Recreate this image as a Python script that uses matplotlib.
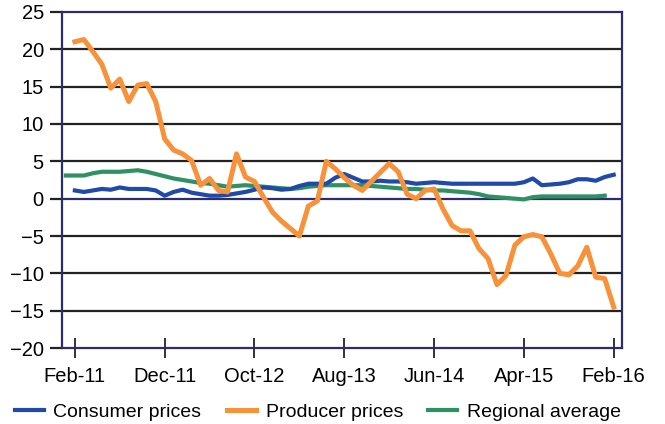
import numpy as np
import matplotlib
matplotlib.use("Agg")
import matplotlib.pyplot as plt

plt.rcParams['font.family'] = ['Liberation Sans', 'DejaVu Sans']

# monthly, Feb-11 .. Feb-16 (index 0..60)
tick_labels = ['Feb-11', 'Dec-11', 'Oct-12', 'Aug-13', 'Jun-14', 'Apr-15', 'Feb-16']

consumer = [1.1, 0.9, 1.1, 1.3, 1.2, 1.5, 1.3, 1.3, 1.3, 1.1,
            0.4, 0.9, 1.2, 0.8, 0.6, 0.4, 0.4, 0.5, 0.7, 0.9,
            1.2, 1.5, 1.4, 1.2, 1.3, 1.7, 2.0, 2.0, 2.0, 2.8,
            3.3, 2.8, 2.3, 2.3, 2.4, 2.3, 2.3, 2.2, 2.0, 2.1,
            2.2, 2.1, 2.0, 2.0, 2.0, 2.0, 2.0, 2.0, 2.0, 2.0,
            2.2, 2.7, 1.8, 1.9, 2.0, 2.2, 2.6, 2.6, 2.4, 2.9,
            3.2]

producer = [21.0, 21.3, 19.7, 18.0, 14.8, 16.0, 13.0, 15.2, 15.4, 13.0,
            8.0, 6.5, 6.0, 5.1, 1.8, 2.7, 1.1, 0.9, 6.0, 2.9,
            2.3, 0.2, -1.8, -3.0, -4.0, -5.0, -1.0, -0.3, 5.0, 4.0,
            2.8, 1.8, 1.1, 2.3, 3.5, 4.7, 3.6, 0.6, 0.0, 1.1,
            1.3, -1.4, -3.6, -4.3, -4.3, -6.7, -8.0, -11.5, -10.3, -6.2,
            -5.1, -4.8, -5.1, -7.4, -10.0, -10.2, -9.0, -6.5, -10.5, -10.7,
            -14.5]

# regional average runs Jan-11 .. Jan-16 (index -1..59)
regional = [3.1, 3.1, 3.1, 3.4, 3.6, 3.6, 3.6, 3.7, 3.8, 3.6,
            3.3, 3.0, 2.7, 2.5, 2.3, 2.1, 2.0, 1.8, 1.6, 1.7,
            1.8, 1.7, 1.6, 1.5, 1.4, 1.3, 1.4, 1.6, 1.7, 1.8,
            1.8, 1.8, 1.8, 1.8, 1.7, 1.6, 1.5, 1.4, 1.3, 1.3,
            1.2, 1.1, 1.1, 1.0, 0.9, 0.8, 0.6, 0.3, 0.2, 0.1,
            0.0, -0.1, 0.2, 0.3, 0.3, 0.3, 0.3, 0.3, 0.3, 0.3,
            0.4]

x = np.arange(len(consumer))
x_reg = np.arange(len(regional)) - 1

navy = '#2b2d6e'
blue = '#1f4aa8'
orange = '#f7923a'
green = '#2f9063'

fig = plt.figure(figsize=(6.65, 4.24), dpi=100)
ax = fig.add_axes([0.093, 0.179, 0.842, 0.793])

for v in [20, 15, 10, 5, -5, -10, -15]:
    ax.axhline(v, color='#222222', lw=1.6, zorder=1)
ax.axhline(0, color=navy, lw=1.6, zorder=1)

l1, = ax.plot(x, consumer, color=blue, lw=3.0, zorder=3,
              solid_joinstyle='round', label='Consumer prices')
l2, = ax.plot(x, producer, color=orange, lw=3.6, zorder=4,
              solid_joinstyle='round', label='Producer prices')
l3, = ax.plot(x_reg, regional, color=green, lw=3.0, zorder=2,
              solid_joinstyle='round', label='Regional average')

ax.set_xlim(-1.45, 60.9)
ax.set_ylim(-20, 25)
ax.set_yticks(range(-20, 26, 5))
ax.set_xticks(np.arange(0, 61, 10))
ax.set_xticklabels(tick_labels)

for s in ax.spines.values():
    s.set_color(navy)
    s.set_linewidth(1.6)

ax.tick_params(axis='y', direction='out', length=9, width=1.6,
               color='#222222', labelsize=14.5, pad=4)
ax.tick_params(axis='x', direction='inout', length=15, width=1.2,
               color='#111111', labelsize=14.5, pad=6)

fig.legend(handles=[l1, l2, l3], loc='center', bbox_to_anchor=(0.478, 0.028),
           ncol=3, frameon=False, fontsize=14, handlelength=1.5,
           columnspacing=1.3, handletextpad=0.5, borderaxespad=0)

fig.savefig('out.png', dpi=100)
